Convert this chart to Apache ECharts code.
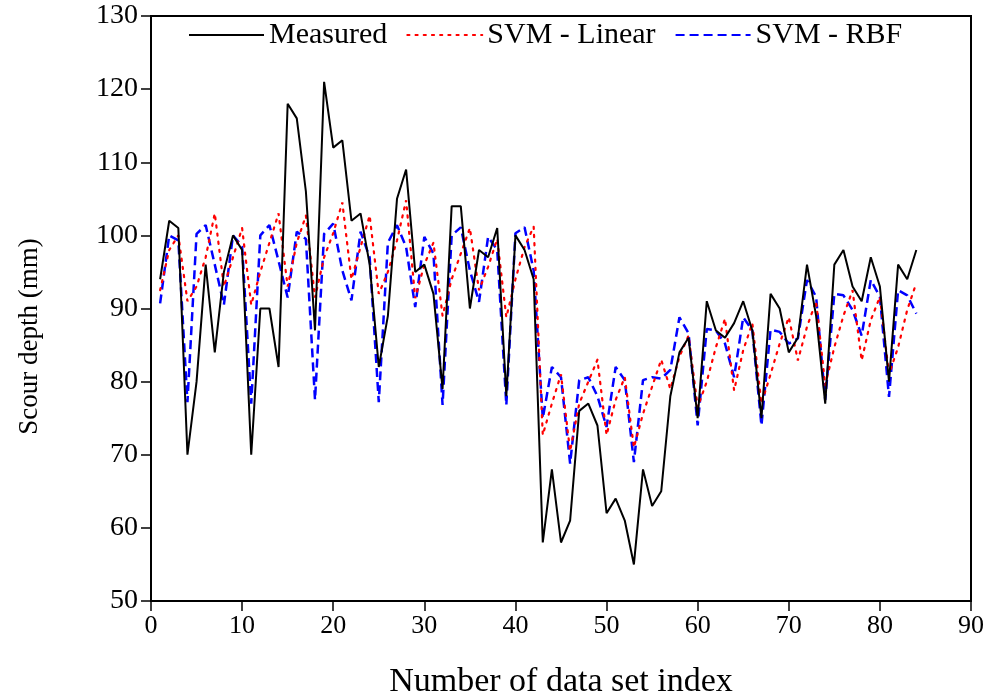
<!DOCTYPE html>
<html>
<head>
<meta charset="utf-8">
<script src="https://cdn.jsdelivr.net/npm/echarts@6/dist/echarts.min.js"></script>
<style>
  html, body { margin: 0; padding: 0; background: #fff; }
  #chart { width: 988px; height: 700px; }
</style>
</head>
<body>
<div id="chart"></div>
<script>
// Data set index (x)
var dataIndex = [1,2,3,4,5,6,7,8,9,10,11,12,13,14,15,16,17,18,19,20,
  21,22,23,24,25,26,27,28,29,30,31,32,33,34,35,36,37,38,39,40,
  41,42,43,44,45,46,47,48,49,50,51,52,53,54,55,56,57,58,59,60,
  61,62,63,64,65,66,67,68,69,70,71,72,73,74,75,76,77,78,79,80,
  81,82,83,84];

// Measured scour depth (mm)
var measured = [94,102,101,70,80,96,84,95,100,98,
  70,90,90,82,118,116,106,87,121,112,
  113,102,103,96,82,89,105,109,95,96,
  92,79,104,104,90,98,97,101,78,100,
  98,94,58,68,58,61,76,77,74,62,
  64,61,55,68,63,65,78,84,86,75,
  91,87,86,88,91,87,75,92,90,84,
  86,96,89,77,96,98,93,91,97,93,
  80,96,94,98];

// SVM with linear kernel
var svmLinear = [92.5,98,100,91,93,97,103,93,97,101,
  90.5,95,99,103,93,99,102.7,91.5,97,100.3,
  104.5,94,98.4,102.7,92,95,99.3,104.8,91.4,96,
  99,89,94,97.5,101,92.5,95.7,99.5,88.8,94,
  98.4,101.2,72.7,77,81,70.5,77,80,83,72.7,
  77.5,80.6,71,75.6,79.3,83,79,83.4,86.3,76.5,
  80,84.7,88.6,78.8,84.3,88,77,81,85.2,88.8,
  82.9,87.5,91,79.5,84.7,89,92.5,82.9,88.4,91.6,
  81,84.7,89.8,93.5];

// SVM with RBF kernel
var svmRbf = [90.7,100,99.3,77.2,100.2,101.4,96,90.5,100,98.5,
  77,100,101.4,96.5,91.5,100.5,99.5,77.5,100.2,101.6,
  95.2,91.1,100.5,97,77.2,99,101.4,98.4,90.2,99.8,
  97.5,76.8,100,101.1,95.2,90.9,99.8,98,76.8,100.3,
  101.1,95.2,75,82,80.6,68.8,80.2,80.6,78,73.8,
  82,80.2,69,80.2,80.6,80.4,81.6,88.8,86.6,74,
  87.2,87,85.2,80.6,88.8,87,74,87.1,86.8,85.2,
  85.9,93.9,91.6,77.5,92,91.8,89.8,86.3,93.9,91.6,
  77.9,92.5,91.8,89.3];

var seriesNames = ['Measured', 'SVM - Linear', 'SVM - RBF'];

function pairs(values) {
  return dataIndex.map(function (x, k) { return [x, values[k]]; });
}

var serif = '"Liberation Serif", "DejaVu Serif", serif';
var chart = echarts.init(document.getElementById('chart'), null, { renderer: 'canvas' });

chart.setOption({
  animation: false,
  backgroundColor: '#fff',
  grid: {
    left: 151, right: 17, top: 16, bottom: 99,
    outerBoundsMode: 'none',
    show: true, borderColor: '#000', borderWidth: 2, backgroundColor: 'transparent'
  },
  legend: {
    top: 15, left: 183,
    itemWidth: 75, itemHeight: 14, itemGap: 19,
    itemStyle: { opacity: 0 },
    textStyle: { fontFamily: serif, fontSize: 30, color: '#000' },
    data: seriesNames
  },
  xAxis: {
    type: 'value', min: 0, max: 90, interval: 10,
    name: 'Number of data set index', nameLocation: 'middle', nameGap: 64,
    nameTextStyle: { fontFamily: serif, fontSize: 34, color: '#000' },
    axisLine: { show: true, onZero: false, lineStyle: { color: '#000', width: 2 } },
    axisTick: { show: true, inside: false, length: 10, lineStyle: { color: '#000', width: 1.5 } },
    axisLabel: { fontFamily: serif, fontSize: 26, color: '#000', margin: 12 },
    splitLine: { show: false }
  },
  yAxis: {
    type: 'value', min: 50, max: 130, interval: 10,
    name: 'Scour depth (mm)', nameLocation: 'middle', nameGap: 108, nameRotate: 90,
    nameTextStyle: { fontFamily: serif, fontSize: 27, color: '#000', padding: [0, 56, 0, 0] },
    axisLine: { show: true, onZero: false, lineStyle: { color: '#000', width: 2 } },
    axisTick: { show: true, inside: false, length: 10, lineStyle: { color: '#000', width: 1.5 } },
    axisLabel: { fontFamily: serif, fontSize: 28, color: '#000', margin: 13 },
    splitLine: { show: false }
  },
  series: [
    {
      name: seriesNames[0], type: 'line', data: pairs(measured),
      symbol: 'none', z: 3,
      lineStyle: { color: '#000', width: 2, type: 'solid' },
      itemStyle: { color: '#000' }
    },
    {
      name: seriesNames[1], type: 'line', data: pairs(svmLinear),
      symbol: 'none', z: 2,
      lineStyle: { color: '#ff0000', width: 2.2, type: [2.2, 6], cap: 'round' },
      itemStyle: { color: '#ff0000' }
    },
    {
      name: seriesNames[2], type: 'line', data: pairs(svmRbf),
      symbol: 'none', z: 1,
      lineStyle: { color: '#0000ff', width: 2.5, type: [9, 5] },
      itemStyle: { color: '#0000ff' }
    }
  ]
});
</script>
</body>
</html>
